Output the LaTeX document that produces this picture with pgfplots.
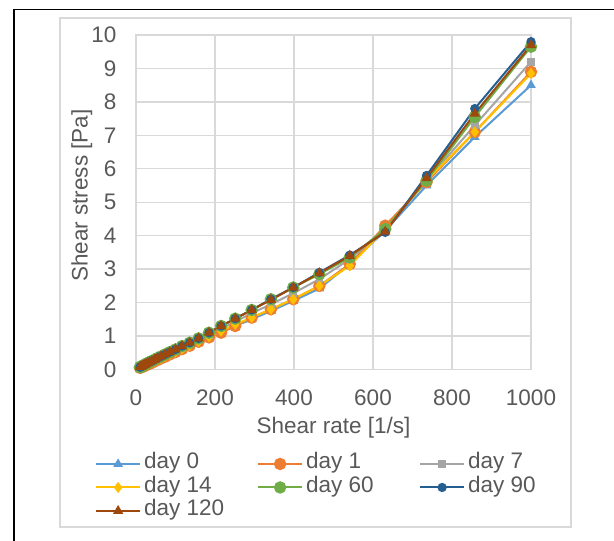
\documentclass[border=0pt]{standalone}
\usepackage{pgfplots}
\pgfplotsset{compat=1.18}
\usepackage{fontspec}
\setmainfont{Liberation Sans}
\definecolor{txt}{HTML}{595959}
\definecolor{grd}{HTML}{D9D9D9}
\definecolor{cA}{HTML}{5B9BD5}
\definecolor{cB}{HTML}{ED7D31}
\definecolor{cC}{HTML}{A5A5A5}
\definecolor{cD}{HTML}{FFC000}
\definecolor{cE}{HTML}{70AD47}
\definecolor{cF}{HTML}{255E91}
\definecolor{cG}{HTML}{9E480E}
\pgfplotstableread{
r      d0    d1    d7    d14   d60   d90   d120
10     0.05  0.05  0.06  0.05  0.07  0.07  0.07
11.66  0.06  0.06  0.07  0.06  0.08  0.08  0.08
13.59  0.07  0.07  0.08  0.07  0.09  0.09  0.09
15.85  0.08  0.08  0.095 0.08  0.105 0.105 0.105
18.48  0.09  0.09  0.11  0.09  0.12  0.12  0.12
21.54  0.11  0.11  0.13  0.11  0.14  0.14  0.14
25.12  0.13  0.13  0.15  0.13  0.165 0.165 0.165
29.29  0.15  0.15  0.175 0.15  0.19  0.19  0.19
34.15  0.17  0.17  0.2   0.18  0.22  0.22  0.22
39.81  0.2   0.2   0.23  0.21  0.25  0.25  0.25
46.42  0.24  0.24  0.27  0.24  0.29  0.29  0.29
54.12  0.28  0.28  0.31  0.28  0.34  0.34  0.34
63.10  0.33  0.33  0.36  0.33  0.39  0.39  0.39
73.56  0.38  0.38  0.42  0.39  0.45  0.45  0.45
85.77  0.45  0.45  0.49  0.46  0.52  0.52  0.52
100    0.52  0.52  0.56  0.53  0.6   0.6   0.6
116.6  0.61  0.61  0.65  0.62  0.7   0.7   0.7
135.9  0.71  0.71  0.76  0.72  0.8   0.8   0.8
158.5  0.83  0.83  0.88  0.84  0.93  0.93  0.93
184.8  0.97  0.96  1.03  0.98  1.1   1.1   1.1
215.4  1.12  1.1   1.22  1.15  1.3   1.3   1.3
251.2  1.3   1.3   1.43  1.35  1.52  1.52  1.52
292.9  1.5   1.55  1.68  1.55  1.78  1.78  1.78
341.5  1.75  1.8   1.95  1.8   2.1   2.1   2.08
398.1  2.05  2.1   2.28  2.1   2.45  2.45  2.45
464.2  2.42  2.5   2.7   2.5   2.85  2.9   2.88
541.2  3.15  3.15  3.3   3.1   3.35  3.42  3.4
631.0  4.15  4.3   4.2   4.2   4.2   4.1   4.12
735.6  5.5   5.6   5.65  5.65  5.65  5.8   5.72
857.7  6.95  7.1   7.3   7.1   7.55  7.8   7.65
1000   8.5   8.9   9.2   8.85  9.65  9.8   9.7
}\datatable
\newcommand{\legtxt}[1]{\makebox[110pt][l]{\textcolor{txt}{#1}}}
\begin{document}
\fontsize{22.5}{27}\selectfont
\begin{tikzpicture}
\useasboundingbox (0,0) rectangle (614pt,541pt);
\fill[white] (0,0) rectangle (614pt,541pt);
\draw[black, line width=1.5pt] (14pt,0pt) -- (14pt,531.5pt) -- (614pt,531.5pt);
\draw[grd, line width=1.3pt] (60pt,14pt) rectangle (571pt,523pt);
\begin{axis}[
  at={(136pt,171.5pt)}, anchor=south west,
  scale only axis, width=395pt, height=334.5pt,
  xmin=0, xmax=1000, ymin=0, ymax=10,
  xtick={0,200,...,1000}, ytick={0,1,...,10},
  grid=major, grid style={grd, line width=1.3pt},
  axis line style={draw=grd, line width=1.3pt},
  major tick length=0pt,
  tick label style={text=txt, font=\fontsize{22.5}{27}\selectfont},
  /pgf/number format/assume math mode=true,
  /pgf/number format/1000 sep={},
  xticklabel style={yshift=-13pt},
  yticklabel style={xshift=-12pt},
  xlabel={Shear rate [1/s]}, ylabel={Shear stress [Pa]},
  label style={text=txt, font=\fontsize{22.5}{27}\selectfont},
  xlabel style={yshift=4pt},
  ylabel style={at={(axis description cs:-0.137,0.52)}, anchor=center},
  legend columns=3,
  legend style={at={(-0.104,-0.2467)}, anchor=north west, draw=none, fill=none,
    inner sep=0pt, column sep=3pt, row sep=0pt,
    nodes={inner sep=0pt, text height=16.5pt, text depth=7pt, font=\fontsize{22.5}{27}\selectfont}},
  legend cell align=left,
  legend image code/.code={\draw[mark repeat=2,mark phase=2] plot coordinates {(0pt,0pt) (22pt,0pt) (44pt,0pt)};},
  every axis plot/.append style={line width=2pt},
]
\addplot[cA, mark=triangle*, mark size=3.6pt] table[x=r,y=d0]{\datatable};
\addlegendentry{\legtxt{day 0}}
\addplot[cB, mark=*, mark size=5.2pt] table[x=r,y=d1]{\datatable};
\addlegendentry{\legtxt{day 1}}
\addplot[cC, mark=square*, mark size=2.8pt] table[x=r,y=d7]{\datatable};
\addlegendentry{\legtxt{day 7}}
\addplot[cD, mark=diamond*, mark size=4pt] table[x=r,y=d14]{\datatable};
\addlegendentry{\legtxt{day 14}}
\addplot[cE, mark=*, mark size=5.2pt] table[x=r,y=d60]{\datatable};
\addlegendentry{\legtxt{day 60}}
\addplot[cF, mark=*, mark size=3.6pt] table[x=r,y=d90]{\datatable};
\addlegendentry{\legtxt{day 90}}
\addplot[cG, mark=triangle*, mark size=4pt] table[x=r,y=d120]{\datatable};
\addlegendentry{\legtxt{day 120}}
\end{axis}
\end{tikzpicture}
\end{document}
